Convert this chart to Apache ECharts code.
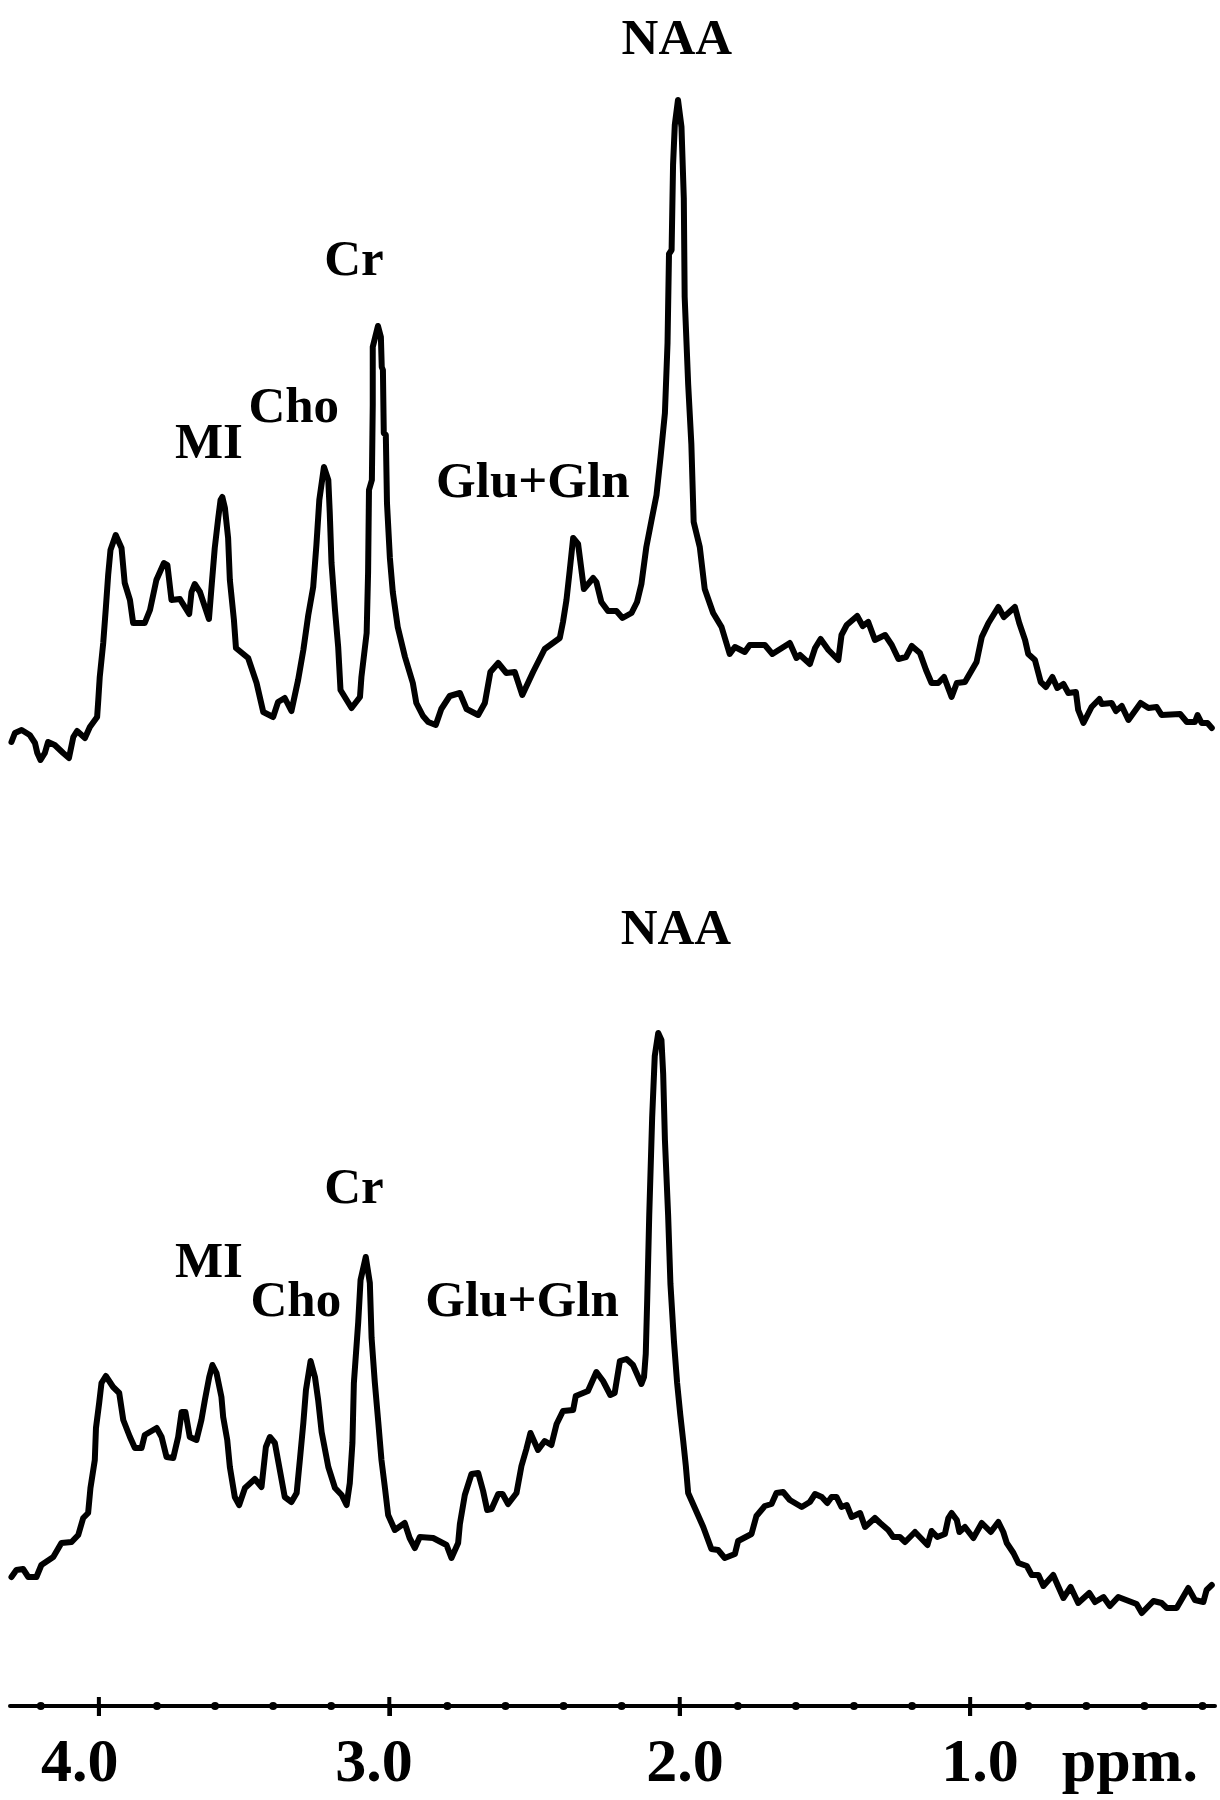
<!DOCTYPE html>
<html>
<head>
<meta charset="utf-8">
<script src="https://cdn.jsdelivr.net/npm/echarts@6/dist/echarts.min.js"></script>
<style>html,body{margin:0;padding:0;background:#fff}#c{width:1220px;height:1800px}</style>
</head>
<body>
<div id="c"></div>
<script>
const ppmTop = [4.301,4.289,4.266,4.238,4.220,4.212,4.201,4.186,4.175,4.152,4.123,4.103,4.088,4.075,4.048,4.031,4.006,4.002,3.997,3.985,3.976,3.968,3.960,3.942,3.922,3.911,3.893,3.882,3.842,3.824,3.802,3.776,3.764,3.750,3.721,3.689,3.681,3.670,3.652,3.621,3.611,3.601,3.589,3.581,3.575,3.566,3.555,3.549,3.535,3.528,3.486,3.457,3.434,3.400,3.383,3.360,3.337,3.314,3.296,3.279,3.262,3.251,3.241,3.225,3.210,3.205,3.199,3.187,3.176,3.168,3.130,3.101,3.096,3.078,3.073,3.070,3.060,3.057,3.057,3.057,3.039,3.029,3.026,3.022,3.019,3.012,3.008,2.998,2.988,2.971,2.946,2.919,2.907,2.884,2.866,2.840,2.821,2.792,2.757,2.734,2.694,2.671,2.652,2.625,2.597,2.568,2.542,2.505,2.465,2.413,2.402,2.390,2.379,2.367,2.350,2.338,2.330,2.298,2.287,2.270,2.247,2.218,2.197,2.166,2.147,2.132,2.115,2.097,2.080,2.066,2.051,2.042,2.037,2.028,2.023,2.017,2.006,1.994,1.986,1.983,1.971,1.960,1.952,1.931,1.914,1.885,1.856,1.828,1.810,1.776,1.759,1.707,1.681,1.621,1.598,1.586,1.552,1.534,1.515,1.488,1.454,1.443,1.425,1.389,1.370,1.351,1.328,1.293,1.270,1.247,1.221,1.201,1.173,1.152,1.133,1.110,1.090,1.064,1.046,1.018,0.978,0.960,0.937,0.903,0.884,0.846,0.831,0.811,0.800,0.777,0.757,0.739,0.717,0.700,0.679,0.662,0.636,0.628,0.610,0.582,0.555,0.547,0.513,0.498,0.478,0.455,0.413,0.386,0.358,0.341,0.277,0.254,0.226,0.217,0.203,0.183,0.168];
const intensityTop = [18,27,30,25,17,7,0,7,18,15,7,2,23,29,22,33,43,60,83,117,152,185,210,225,212,177,160,137,137,150,180,197,195,160,161,146,168,176,168,141,177,212,242,260,263,252,222,180,140,112,102,77,48,43,58,62,49,80,110,145,173,215,260,293,280,247,197,150,113,70,52,63,83,127,188,270,280,355,393,413,434,423,393,390,327,325,257,202,168,133,103,77,57,44,38,35,51,64,67,51,45,57,88,97,87,88,65,88,111,122,138,160,189,222,216,189,171,182,178,158,149,149,142,147,158,176,213,240,265,303,347,417,506,510,595,635,660,633,562,463,376,316,238,213,171,147,133,106,113,108,115,115,106,117,102,105,96,112,121,110,100,125,135,144,134,138,120,125,115,101,103,114,107,90,77,77,83,63,77,78,98,123,137,153,143,153,137,120,106,100,78,73,83,72,76,67,68,50,37,53,61,56,57,49,54,40,57,52,53,45,46,38,38,45,37,37,32];
const ppmBottom = [4.301,4.284,4.261,4.243,4.215,4.198,4.157,4.129,4.094,4.071,4.054,4.037,4.029,4.014,4.010,3.999,3.991,3.976,3.951,3.930,3.916,3.893,3.876,3.853,3.842,3.801,3.784,3.767,3.744,3.727,3.715,3.702,3.687,3.664,3.647,3.635,3.620,3.609,3.595,3.578,3.572,3.558,3.549,3.532,3.517,3.497,3.463,3.440,3.425,3.411,3.394,3.377,3.360,3.337,3.319,3.308,3.296,3.287,3.271,3.256,3.245,3.233,3.210,3.187,3.164,3.147,3.136,3.127,3.122,3.107,3.099,3.081,3.067,3.061,3.050,3.038,3.027,3.015,3.004,2.981,2.947,2.930,2.912,2.895,2.849,2.803,2.786,2.763,2.757,2.740,2.717,2.694,2.677,2.663,2.648,2.625,2.610,2.591,2.562,2.545,2.528,2.514,2.488,2.465,2.442,2.424,2.402,2.367,2.358,2.316,2.287,2.264,2.239,2.224,2.206,2.183,2.161,2.132,2.123,2.117,2.112,2.105,2.095,2.086,2.074,2.063,2.057,2.051,2.040,2.032,2.020,2.009,1.998,1.988,1.979,1.971,1.948,1.919,1.891,1.868,1.845,1.810,1.799,1.753,1.736,1.707,1.684,1.667,1.644,1.621,1.580,1.552,1.534,1.511,1.492,1.477,1.460,1.443,1.425,1.408,1.379,1.362,1.328,1.310,1.282,1.265,1.242,1.224,1.190,1.147,1.133,1.113,1.087,1.075,1.064,1.046,1.037,1.018,0.989,0.960,0.929,0.903,0.886,0.874,0.851,0.834,0.805,0.788,0.765,0.748,0.714,0.702,0.679,0.654,0.628,0.590,0.570,0.541,0.519,0.490,0.427,0.409,0.369,0.341,0.323,0.289,0.249,0.226,0.197,0.186,0.168];
const intensityBottom = [134,141,142,134,134,146,154,168,169,176,193,198,223,251,283,308,328,335,324,318,291,274,263,263,276,283,274,254,253,274,299,299,274,271,291,311,334,346,338,314,294,271,244,214,206,223,232,224,264,274,268,241,214,209,218,251,288,321,350,334,311,279,244,223,216,206,228,268,328,389,431,454,428,373,329,289,251,223,196,181,188,173,163,174,173,166,153,168,187,216,237,238,220,201,202,217,217,207,218,245,262,278,261,270,266,287,300,301,315,320,339,330,316,318,350,352,346,327,334,357,411,496,593,655,678,671,637,571,496,427,370,328,296,270,245,218,203,184,162,161,153,157,170,177,195,205,207,218,219,211,204,209,217,214,208,214,214,204,206,194,198,184,193,188,181,174,174,169,179,166,180,174,177,193,198,191,179,184,173,188,179,189,179,168,158,148,145,136,136,125,136,128,113,124,108,118,109,114,105,114,107,98,110,108,103,103,123,111,109,121,126];

const labelsTop = ['NAA','Cr','Cho','MI','Glu+Gln'];
const labelPpmTop = [2.010,3.122,3.329,3.621,2.506];
const labelIntensityTop = [719,498,351,315,276];
const labelsBottom = ['NAA','Cr','MI','Cho','Glu+Gln'];
const labelPpmBottom = [2.013,3.122,3.621,3.322,2.543];
const labelIntensityBottom = [780,521,447,408,408];

const axisLabels = ['4.0','3.0','2.0','1.0','ppm.'];
const axisLabelPpm = [4.066,3.053,1.982,0.966,0.450];
const majorTicks = [4,3,2,1];
const minorTicks = [4.2,3.8,3.6,3.4,3.2,2.8,2.6,2.4,2.2,1.8,1.6,1.4,1.2,0.8,0.6,0.4,0.2];
const ppmMin = 0.157, ppmMax = 4.306, axisLevel = 5;

const INK = '#000000', FONT = '"Liberation Serif", "Times New Roman", serif';
const zip = (a, b) => a.map((v, i) => [v, b[i]]);
const trace = (i, xs, ys) => ({
  type: 'line', xAxisIndex: i, yAxisIndex: i, data: zip(xs, ys), showSymbol: false, symbol: 'none',
  smooth: false, lineStyle: { color: INK, width: 6, join: 'round', cap: 'round' }, silent: true, clip: false
});
const peakLabels = (i, xs, ys, names) => ({
  type: 'scatter', xAxisIndex: i, yAxisIndex: i, symbolSize: 0, silent: true, itemStyle: { opacity: 1 },
  data: xs.map((x, k) => ({ value: [x, ys[k]], name: names[k] })),
  label: { show: true, position: 'inside', formatter: p => p.name, color: INK,
           fontFamily: FONT, fontWeight: 'bold', fontSize: 51, align: 'center', verticalAlign: 'middle' }
});

const chart = echarts.init(document.getElementById('c'), null, { renderer: 'canvas' });
chart.setOption({
  animation: false,
  backgroundColor: '#ffffff',
  grid: [
    { left: 10, width: 1205, top: 0, height: 760, containLabel: false },
    { left: 10, width: 1205, top: 800, height: 906, containLabel: false }
  ],
  xAxis: [
    { gridIndex: 0, type: 'value', inverse: true, min: ppmMin, max: ppmMax, show: false },
    { gridIndex: 1, type: 'value', inverse: true, min: ppmMin, max: ppmMax,
      axisLine: { show: true, onZero: false, lineStyle: { color: INK, width: 4 } },
      axisTick: { show: true, customValues: majorTicks, length: 10, lineStyle: { color: INK, width: 4 } },
      splitLine: { show: false },
      axisLabel: { show: true, customValues: axisLabelPpm, margin: 28, color: INK, fontFamily: FONT,
        fontWeight: 'bold', fontSize: 62, hideOverlap: false,
        formatter: v => axisLabels[axisLabelPpm.indexOf(v)] } }
  ],
  yAxis: [
    { gridIndex: 0, type: 'value', min: 0, max: 760, show: false },
    { gridIndex: 1, type: 'value', min: axisLevel, max: 911, show: false }
  ],
  series: [
    trace(0, ppmTop, intensityTop),
    trace(1, ppmBottom, intensityBottom),
    peakLabels(0, labelPpmTop, labelIntensityTop, labelsTop),
    peakLabels(1, labelPpmBottom, labelIntensityBottom, labelsBottom),
    { type: 'scatter', xAxisIndex: 1, yAxisIndex: 1, clip: false, silent: true, symbol: 'circle', symbolSize: 8,
      itemStyle: { color: INK, opacity: 1 }, data: minorTicks.map(x => [x, axisLevel]) },
    { type: 'scatter', xAxisIndex: 1, yAxisIndex: 1, clip: false, silent: true, symbol: 'rect', symbolSize: [4, 19],
      symbolOffset: [0, 0.5], itemStyle: { color: INK, opacity: 1 }, data: majorTicks.map(x => [x, axisLevel]) }
  ]
});
</script>
</body>
</html>
